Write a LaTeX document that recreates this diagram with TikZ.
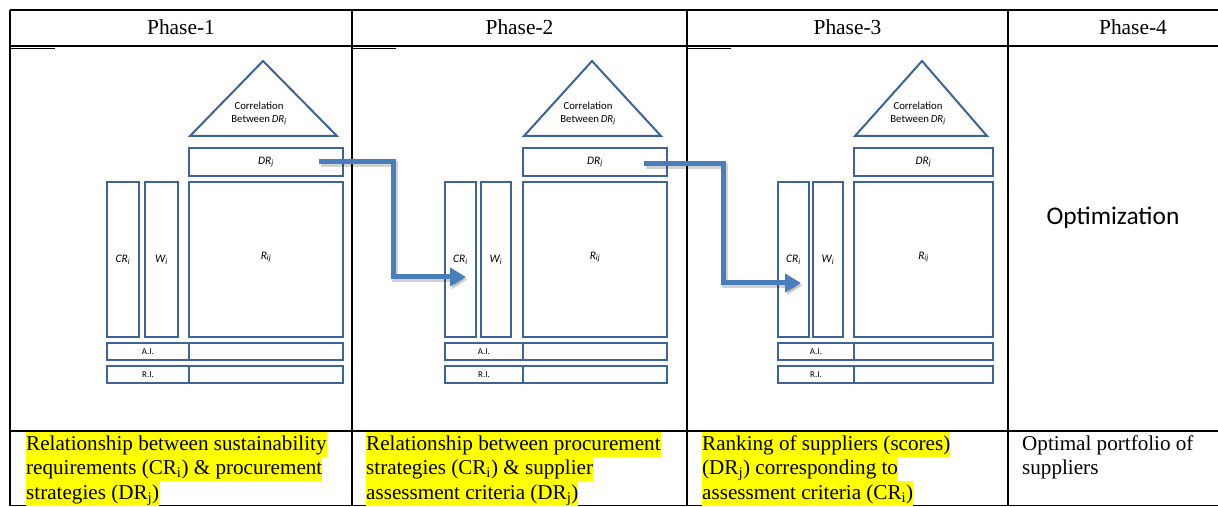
\documentclass[tikz,border=0pt]{standalone}
\usepackage{fontspec}
\setmainfont{Liberation Serif}
\newfontfamily\calfont{Carlito}
\usetikzlibrary{arrows.meta,calc}

\definecolor{boxblue}{HTML}{3C6494}
\definecolor{arrowblue}{HTML}{4A7EBB}
\definecolor{hlyellow}{HTML}{FFFF00}

\tikzset{
  rule/.style={line width=1.6bp, black},
  qcellstyle/.style={draw=boxblue, line width=2bp, inner sep=0pt, rectangle,
    font=\calfont\itshape\fontsize{11.5}{13}\selectfont},
  roof/.style={draw=boxblue, line width=2bp, line join=miter},
  roofnote/.style={align=center, inner sep=0pt, font=\calfont\fontsize{10.8}{13}\selectfont},
  flow/.style={draw=arrowblue, line width=5bp, -{Triangle[length=16bp,width=18bp]}},
  flowshade/.style={draw=black, opacity=0.18, line width=6bp, -{Triangle[length=16bp,width=19bp]}},
  phasehead/.style={anchor=base, inner sep=0pt, font=\fontsize{21.5}{24}\selectfont},
  hl/.style={anchor=base west, fill=hlyellow, inner xsep=0pt, inner ysep=0.5bp,
    text height=17.5bp, text depth=6bp, font=\fontsize{21.2}{24}\selectfont},
  plain/.style={hl, fill=none},
}

% a rectangular cell given by its corners (left, top, right, bottom)
\newcommand\qcell[6]{%
  \node[qcellstyle, minimum width={(#4-#2)*1bp}, minimum height={(#5-#3)*1bp}]
    (#1) at ({(#2+#4)/2},{(#3+#5)/2}) {#6};}

\newcommand\sub[1]{\textsubscript{#1}}

% one house of quality:
% #1 suffix, #2/#3 CR column, #4/#5 weight column, #6/#7 relationship matrix, #8 roof apex
\newcommand\house[8]{%
  \coordinate (apex#1) at (#8,61);
  \coordinate (roofL#1) at (#6+1,136);
  \coordinate (roofR#1) at (#7-6,136);
  \draw[roof] (apex#1) -- (roofL#1) -- (roofR#1) -- cycle;
  \node[roofnote] (corr#1) at (#8-4,113.5) {Correlation\\Between\,{\itshape DR\sub{j}}};
  \qcell{dr#1}{#6}{148}{#7}{176}{DR\sub{j}}
  \qcell{cr#1}{#2}{182}{#3}{337}{CR\sub{i}}
  \qcell{w#1}{#4}{182}{#5}{337}{W\sub{i}}
  \qcell{r#1}{#6}{182}{#7}{337}{\raisebox{8bp}{R\sub{ij}}}
  \qcell{ai#1}{#2}{343}{#6}{360}{\upshape\fontsize{9}{10}\selectfont A.I.}
  \qcell{aiv#1}{#6}{343}{#7}{360}{}
  \qcell{ri#1}{#2}{366}{#6}{383}{\upshape\fontsize{9}{10}\selectfont R.I.}
  \qcell{riv#1}{#6}{366}{#7}{383}{}
}

\begin{document}
\begin{tikzpicture}[x=1bp,y=-1bp]
  \useasboundingbox (0,0) rectangle (1218,507);
  \fill[white] (0,0) rectangle (1218,507);

  % table rules
  \draw[rule] (10,10) -- (1218,10);
  \draw[rule] (10,46) -- (1218,46);
  \draw[rule] (10,431) -- (1218,431);
  \draw[rule] (10,505.5) -- (1218,505.5);
  \draw[line width=1.2bp] (10,48.5) -- (55,48.5);
  \draw[line width=1.2bp] (352,48.5) -- (396,48.5);
  \draw[line width=1.2bp] (687,48.5) -- (731,48.5);
  \foreach \cx in {10,352,687,1008}
    \draw[rule] (\cx,10) -- (\cx,506.3);

  % column heads
  \node[phasehead] (h1) at (181,35) {Phase-1};
  \node[phasehead] (h2) at (519.5,35) {Phase-2};
  \node[phasehead] (h3) at (847.5,35) {Phase-3};
  \node[phasehead] (h4) at (1133,35) {Phase-4};

  % the three houses
  \house{1}{107}{139}{145}{178}{189}{343}{263}
  \house{2}{445}{476}{481}{511}{523}{667}{592}
  \house{3}{778}{809}{813}{843}{854}{993}{922}

  \node[font=\calfont\fontsize{25.5}{28}\selectfont, inner sep=0pt] (opt) at (1113,218) {Optimization};

  % links between phases
  \coordinate (s1) at ($(dr1.east)+(-25,0)$);
  \coordinate (e1) at ($(cr2.center)+(5.5,17.5)$);
  \coordinate (s2) at ($(dr2.east)+(-24,2)$);
  \coordinate (e2) at ($(cr3.center)+(7.5,23.5)$);
  \draw[flowshade, transform canvas={xshift=1.5bp,yshift=-2.5bp}] (s1) -- ++(74,0) |- (e1);
  \draw[flowshade, transform canvas={xshift=1.5bp,yshift=-2.5bp}] (s2) -- ++(79,0) |- (e2);
  \draw[flow] (s1) -- ++(74,0) |- (e1);
  \draw[flow] (s2) -- ++(79,0) |- (e2);

  % phase descriptions
  \node[hl] (t11) at (26,450) {Relationship between sustainability};
  \node[hl] (t12) at (26,474.5) {requirements (CR\sub{i}) \& procurement};
  \node[hl] (t13) at (26,499) {strategies (DR\sub{j})};

  \node[hl] (t21) at (366,450) {Relationship between procurement};
  \node[hl] (t22) at (366,474.5) {strategies (CR\sub{i}) \& supplier};
  \node[hl] (t23) at (366,499) {assessment criteria (DR\sub{j})};

  \node[hl] (t31) at (702,450) {Ranking of suppliers (scores)};
  \node[hl] (t32) at (702,474.5) {(DR\sub{j}) corresponding to};
  \node[hl] (t33) at (702,499) {assessment criteria (CR\sub{i})};

  \node[plain] (t41) at (1022,450) {Optimal portfolio of};
  \node[plain] (t42) at (1022,474.5) {suppliers};
\end{tikzpicture}
\end{document}
